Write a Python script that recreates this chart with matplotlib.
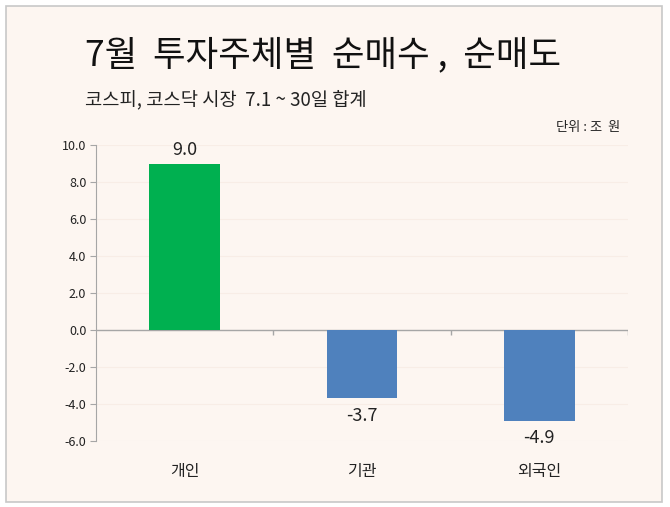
import numpy as np
import matplotlib.pyplot as plt
from matplotlib.patches import Rectangle

plt.rcParams['font.family'] = ['Noto Sans CJK KR', 'DejaVu Sans']

# 데이터
kategorien = ['개인', '기관', '외국인']
werte = [9.0, -3.7, -4.9]
farben = ['#00B050', '#4F81BD', '#4F81BD']
y_ticks = [-6.0, -4.0, -2.0, 0.0, 2.0, 4.0, 6.0, 8.0, 10.0]

bg = '#FDF6F1'
fig = plt.figure(figsize=(6.7, 5.07), dpi=100)
fig.patch.set_facecolor('white')

# Rahmen
fig.patches.append(Rectangle((6 / 670, 1 - 502 / 507), 656 / 670, 496 / 507,
                             transform=fig.transFigure, facecolor=bg,
                             edgecolor='#C8C8C8', linewidth=1.2, zorder=-1))

ax = fig.add_axes([96 / 670, 1 - 441 / 507, 532 / 670, 296 / 507])
ax.set_facecolor('none')

x = np.arange(len(kategorien))
bars = ax.bar(x, werte, width=0.4, color=farben, zorder=3)

ax.set_xlim(-0.5, len(kategorien) - 0.5)
ax.set_ylim(-6, 10)
ax.set_yticks(y_ticks)
ax.set_yticklabels([f'{v:.1f}' for v in y_ticks], fontsize=9, color='#222222')
ax.tick_params(axis='y', length=4, color='#A6A6A6', pad=3)
ax.set_xticks([])
ax.grid(axis='y', color='#F8EDE6', linewidth=0.8, zorder=0)

for s in ['top', 'right', 'bottom']:
    ax.spines[s].set_visible(False)
ax.spines['left'].set_color('#A6A6A6')

# Nulllinie und Trennstriche
ax.axhline(0, color='#A6A6A6', linewidth=1, zorder=2)
grenzen = np.arange(len(kategorien)) + 0.5
ax.vlines(grenzen, -0.25, 0, color='#A6A6A6', linewidth=1)

# Werte beschriften
for xi, v in zip(x, werte):
    if v >= 0:
        ax.annotate(f'{v:.1f}', (xi, v), xytext=(0, 3), textcoords='offset points',
                    ha='center', va='bottom', fontsize=13, color='#222222')
    else:
        ax.annotate(f'{v:.1f}', (xi, v), xytext=(0, -6), textcoords='offset points',
                    ha='center', va='top', fontsize=13, color='#222222')

# Kategorien
for xi, k in zip(x, kategorien):
    ax.annotate(k, (xi, -6), xytext=(0, -22), textcoords='offset points',
                ha='center', va='center', fontsize=11.5, color='#222222')

fig.text(85 / 670, 1 - 55 / 507, '7월  투자주체별  순매수 ,  순매도', fontsize=25.5,
         ha='left', va='center', color='#111111')
fig.text(85 / 670, 1 - 100 / 507, '코스피, 코스닥 시장  7.1 ~ 30일 합계', fontsize=13.5,
         ha='left', va='center', color='#222222')
fig.text(620 / 670, 1 - 127 / 507, '단위 : 조  원', fontsize=9.5,
         ha='right', va='center', color='#222222')

fig.savefig('out.png', dpi=100, facecolor=fig.get_facecolor())
